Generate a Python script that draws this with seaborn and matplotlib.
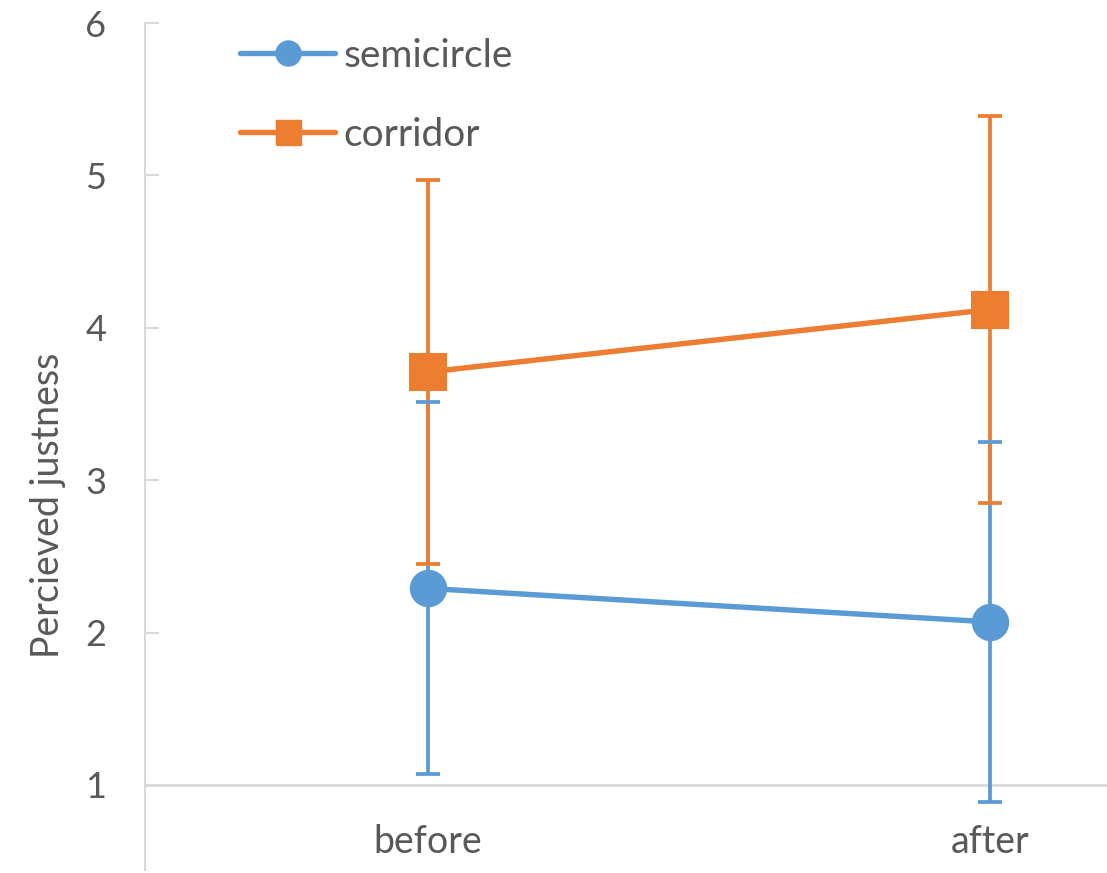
import numpy as np
import pandas as pd
import matplotlib
matplotlib.use("Agg")
import matplotlib.pyplot as plt
import seaborn as sns
from matplotlib.lines import Line2D

phases = ["before", "after"]
layouts = ["semicircle", "corridor"]
semicircle_mean = [2.29, 2.07]
semicircle_sd = [1.22, 1.18]
corridor_mean = [3.71, 4.12]
corridor_sd = [1.26, 1.27]
colors = {"semicircle": "#5B9BD5", "corridor": "#ED7D31"}
markers = {"semicircle": "o", "corridor": "s"}

sns.set_style("white")
plt.rcParams["font.family"] = ["Lato", "DejaVu Sans"]

df = pd.DataFrame({
    "phase": phases * 2,
    "layout": [layouts[0]] * 2 + [layouts[1]] * 2,
    "mean": semicircle_mean + corridor_mean,
    "sd": semicircle_sd + corridor_sd,
})

fig = plt.figure(figsize=(11.07, 8.73), dpi=100)
ax = fig.add_axes([145 / 1107, 1 - 870 / 873, 1 - 145 / 1107, (870 - 23) / 873])

# error bars (blue first, orange on top)
for i, lay in enumerate(layouts):
    sub = df[df["layout"] == lay]
    ax.errorbar(np.arange(len(phases)), sub["mean"], yerr=sub["sd"], fmt="none",
                ecolor=colors[lay], elinewidth=2.7, capsize=8.5, capthick=2.7,
                zorder=2 + i)

sns.pointplot(data=df, x="phase", y="mean", hue="layout", order=phases,
              hue_order=layouts, palette=colors, markers=["o", "s"],
              linestyles="-", errorbar=None, ax=ax, markersize=24,
              linewidth=3.9, legend=False)
for ln in ax.lines:
    ln.set_zorder(5)

y0 = 1 - 85 / 152.4
ax.set_ylim(y0, 6)
ax.set_xlim(-(428 - 145) / 562, 1 + (1107 - 990) / 562)
ax.set_yticks([1, 2, 3, 4, 5, 6])
ax.axhline(1, color="#d9d9d9", lw=2, zorder=1)

for s in ["top", "right", "bottom"]:
    ax.spines[s].set_visible(False)
ax.spines["left"].set_color("#d9d9d9")
ax.spines["left"].set_linewidth(1.5)
ax.spines["left"].set_bounds(y0, 6)

ax.tick_params(axis="y", direction="in", length=10, width=1.5, color="#d9d9d9",
               labelsize=26, labelcolor="#595959", pad=28, left=True)
ax.tick_params(axis="x", length=0, labelsize=27, labelcolor="#595959", pad=-33)
ax.set_xlabel("")
ax.set_ylabel("Percieved justness", fontsize=27, color="#595959")
ax.yaxis.set_label_coords(66 / 1107, (873 - 505) / 873, transform=fig.transFigure)

handles = [Line2D([0], [0], color=colors[l], marker=markers[l], lw=3.9,
                  markersize=18) for l in layouts]
fig.legend(handles, layouts, loc="upper left", bbox_to_anchor=(240 / 1107, 1 - 38 / 873),
           frameon=False, fontsize=28, handlelength=2.45, handletextpad=0.22,
           labelspacing=1.1, borderpad=0, borderaxespad=0, labelcolor="#595959")

fig.savefig("out.png", dpi=100)
